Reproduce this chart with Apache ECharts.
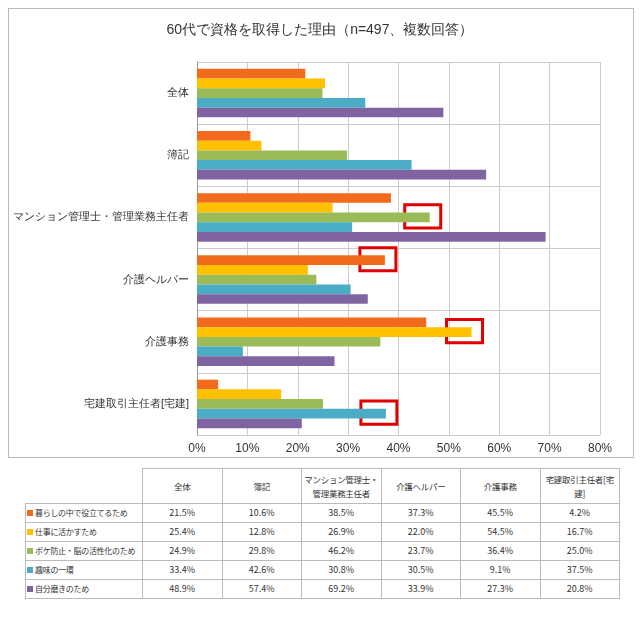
<!DOCTYPE html><html><head><meta charset="utf-8">
<script src="https://cdn.jsdelivr.net/npm/echarts@6/dist/echarts.min.js"></script>
<style>
body{margin:0;background:#fff;font-family:"Noto Sans CJK JP",sans-serif;}
#frame{position:absolute;left:8px;top:8px;width:624px;height:448px;border:1px solid #bbb;}
#c{position:absolute;left:0;top:0;width:640px;height:460px;}
table{position:absolute;left:25px;top:468px;border-collapse:collapse;font-size:9px;color:#333;table-layout:fixed;width:595px;}
td{border:1px solid #bbb;text-align:center;height:18px;padding:0 1px;line-height:14px;}
td.l{text-align:left;white-space:nowrap;overflow:hidden;font-size:8px;letter-spacing:-0.3px;}
td.h{font-size:8.5px;white-space:nowrap;letter-spacing:-0.3px;}
.sw{display:inline-block;width:6px;height:6px;margin-right:2px;}
</style></head><body>
<div id="frame"></div><div id="c"></div><table id="t"></table>
<script>
const categories=['全体','簿記','マンション管理士・管理業務主任者','介護ヘルパー','介護事務','宅建取引主任者[宅建]'];
const tableHeads=['全体','簿記','マンション管理士・<br>管理業務主任者','介護ヘルパー','介護事務','宅建取引主任者[宅<br>建]'];
const seriesNames=['暮らしの中で役立てるため','仕事に活かすため','ボケ防止・脳の活性化のため','趣味の一環','自分磨きのため'];
const colors=['#F26B1D','#FFC000','#9BBB59','#4BACC6','#8064A2'];
const s1=[21.5,10.6,38.5,37.3,45.5,4.2];
const s2=[25.4,12.8,26.9,22.0,54.5,16.7];
const s3=[24.9,29.8,46.2,23.7,36.4,25.0];
const s4=[33.4,42.6,30.8,30.5,9.1,37.5];
const s5=[48.9,57.4,69.2,33.9,27.3,20.8];
const data=[s1,s2,s3,s4,s5];
const highlights=[[2,2],[3,0],[4,1],[5,3]]; // [category, series]
const ch=echarts.init(document.getElementById('c'));
ch.setOption({
 title:{text:'60代で資格を取得した理由（n=497、複数回答）',left:'center',top:18,textStyle:{fontSize:14,fontWeight:'normal',color:'#333'}},
 grid:{left:197,right:40,top:62,bottom:25},
 xAxis:{type:'value',min:0,max:80,interval:10,axisLabel:{formatter:'{value}%',fontSize:12,color:'#333'},splitLine:{lineStyle:{color:'#ccc'}}},
 yAxis:{type:'category',data:categories,inverse:true,axisTick:{show:false},axisLine:{lineStyle:{color:'#999'}},axisLabel:{fontSize:11,color:'#333'},splitLine:{show:true,lineStyle:{color:'#ccc'}}},
 series:data.map((d,i)=>({type:'bar',name:seriesNames[i],data:d,itemStyle:{color:colors[i]},barCategoryGap:'22%',barGap:'0%'})),
 animation:false
});
const g=[];
highlights.forEach(([c,s])=>{
 const p=ch.convertToPixel({gridIndex:0},[data[s][c],c]);
 const bw=(62*0.78)/5;
 const cy=p[1]-2.5*bw+(s+0.5)*bw-1;
 g.push({type:'rect',shape:{x:p[0]-25,y:cy-bw*1.2,width:36,height:bw*2.4},style:{fill:'none',stroke:'#E00000',lineWidth:3}});
});
ch.setOption({graphic:g});
let h='<colgroup><col style="width:117px">'+tableHeads.map(()=>'<col>').join('')+'</colgroup>';
h+='<tr><td class="l" style="border:none;border-bottom:1px solid #bbb"></td>'+tableHeads.map(x=>'<td class="h" style="height:34px">'+x+'</td>').join('')+'</tr>';
data.forEach((d,i)=>{h+='<tr><td class="l"><span class="sw" style="background:'+colors[i]+'"></span>'+seriesNames[i]+'</td>'+d.map(v=>'<td>'+v.toFixed(1)+'%</td>').join('')+'</tr>';});
document.getElementById('t').innerHTML=h;
</script></body></html>
